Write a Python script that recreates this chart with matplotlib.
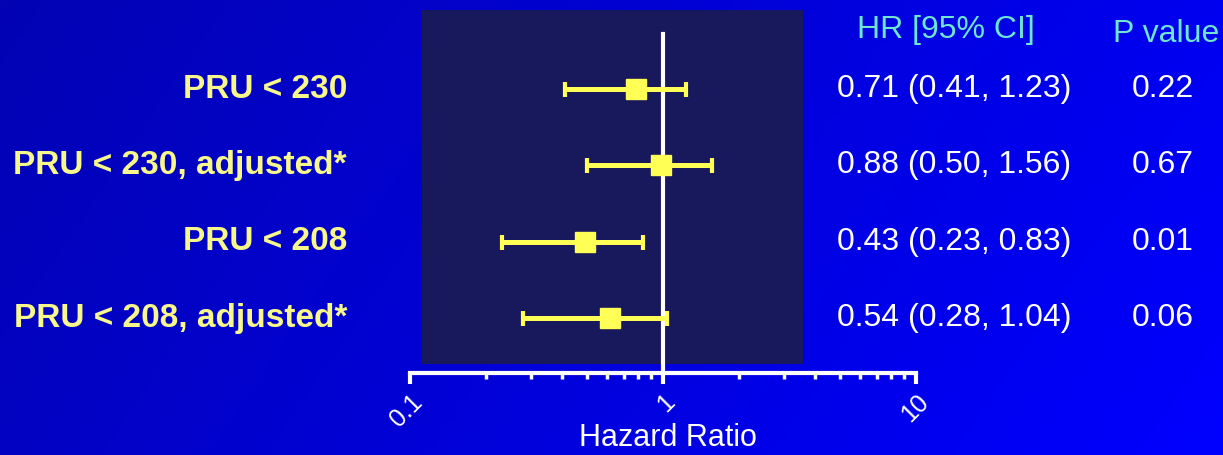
import numpy as np
import matplotlib
matplotlib.use("Agg")
import matplotlib.pyplot as plt
import matplotlib.transforms as mtransforms
from matplotlib.patches import Rectangle
from matplotlib.colors import LinearSegmentedColormap

# data
labels = ["PRU < 230", "PRU < 230, adjusted*", "PRU < 208", "PRU < 208, adjusted*"]
hr = [0.71, 0.88, 0.43, 0.54]
ci_low = [0.41, 0.50, 0.23, 0.28]
ci_high = [1.23, 1.56, 0.83, 1.04]
p_values = ["0.22", "0.67", "0.01", "0.06"]
# where the squares actually sit on the plot (slightly right of the printed HR)
marker_x = [0.78, 0.98, 0.49, 0.62]
hr_text = [f"{h:.2f} ({lo:.2f}, {hi:.2f})" for h, lo, hi in zip(hr, ci_low, ci_high)]

FONT = "Liberation Sans"
YELLOW = "#ffff55"
LABEL_YELLOW = "#f8f88a"
CYAN = "#6ee6d2"

fig = plt.figure(figsize=(12.23, 4.55), dpi=100)

# blue gradient background
bg = fig.add_axes([0, 0, 1, 1], zorder=-10)
xx, yy = np.meshgrid(np.linspace(0, 1, 300), np.linspace(0, 1, 120))
grad = 0.8 * xx + 0.2 * yy
cmap = LinearSegmentedColormap.from_list("bg", ["#0303b4", "#0000ff"])
bg.imshow(grad, cmap=cmap, aspect="auto", extent=[0, 1, 1, 0])
bg.set_axis_off()

W, H = 1223, 455
ax = fig.add_axes([410 / W, 1 - 373 / H, 506 / W, 373 / H])
ax.set_facecolor("none")
ax.set_xscale("log")
ax.set_xlim(0.1, 10)
ax.set_ylim(3.72, -1.166)

# dark plot panel
ax.add_patch(Rectangle((12 / 506, 9 / 373), 381 / 506, 354 / 373,
                       transform=ax.transAxes, facecolor="#18185c",
                       edgecolor="none", zorder=0))
ax.axvline(1, ymin=0, ymax=(373 - 34) / 373, color="white", lw=3, zorder=1)

rows = np.arange(len(labels))
xerr = [np.array(marker_x) - np.array(ci_low), np.array(ci_high) - np.array(marker_x)]
ax.errorbar(marker_x, rows, xerr=xerr, fmt="s", color=YELLOW, ecolor=YELLOW,
            markersize=15, elinewidth=3.6, capsize=5.4, capthick=3, zorder=3)

for s in ["top", "right", "left"]:
    ax.spines[s].set_visible(False)
ax.spines["bottom"].set_color("white")
ax.spines["bottom"].set_linewidth(3)
ax.set_yticks([])
ax.set_xticks([0.1, 1, 10])
ax.set_xticklabels(["0.1", "1", "10"], rotation=45, ha="right",
                   rotation_mode="anchor", fontsize=18, family=FONT, color="white")
ax.tick_params(axis="x", which="major", length=8, width=3, color="white", pad=4)
ax.tick_params(axis="x", which="minor", length=4, width=2.5, color="white")
ax.xaxis.set_minor_formatter(matplotlib.ticker.NullFormatter())

fig.text(668 / W, 2 / H, "Hazard Ratio", ha="center", va="bottom",
         fontsize=22, family=FONT, color="white")

trans = mtransforms.blended_transform_factory(fig.transFigure, ax.transData)
for i in rows:
    ax.text(347 / W, i, labels[i], transform=trans, ha="right", va="center",
            fontsize=24, fontweight="bold", family=FONT, color=LABEL_YELLOW)
    ax.text(837 / W, i, hr_text[i], transform=trans, ha="left", va="center",
            fontsize=23, family=FONT, color="white")
    ax.text(1132 / W, i, p_values[i], transform=trans, ha="left", va="center",
            fontsize=23, family=FONT, color="white")

fig.text(946 / W, 1 - 30 / H, "HR [95% CI]", ha="center", va="center",
         fontsize=23, family=FONT, color=CYAN)
fig.text(1166 / W, 1 - 34 / H, "P value", ha="center", va="center",
         fontsize=23, family=FONT, color=CYAN)

fig.savefig("out.png", dpi=100)
